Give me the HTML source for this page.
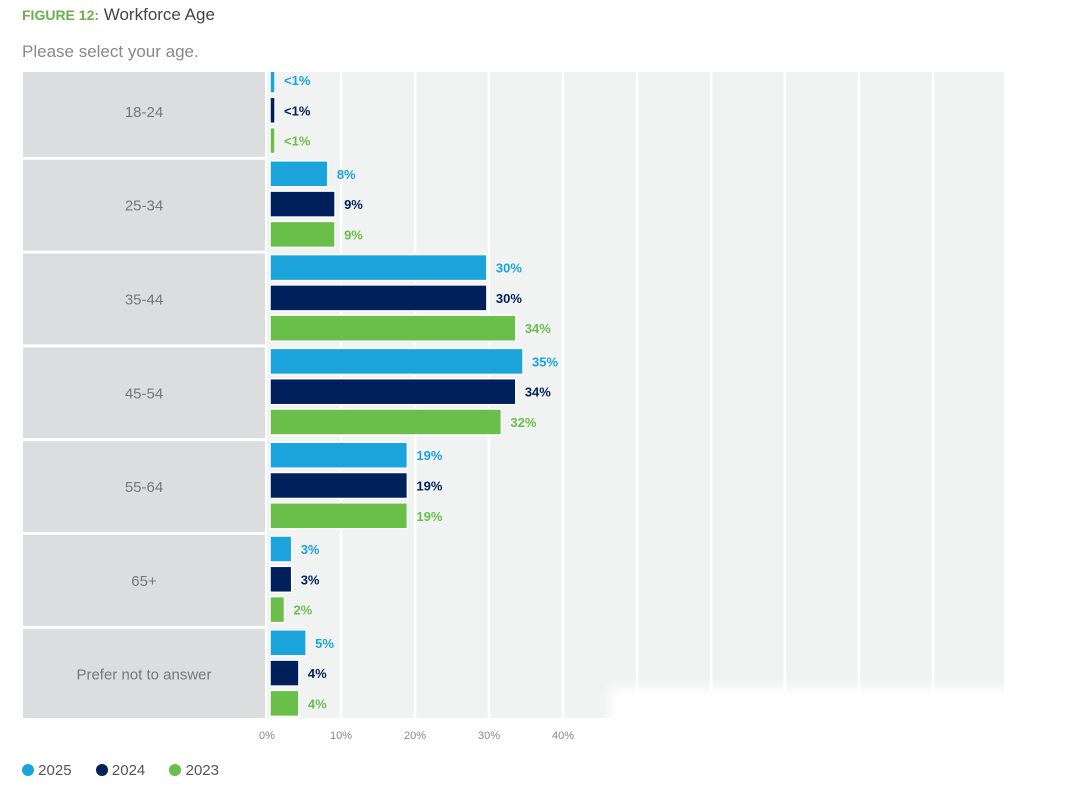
<!DOCTYPE html>
<html><head><meta charset="utf-8"><style>
body{margin:0;width:1080px;height:801px;background:#fff;font-family:"Liberation Sans",sans-serif;overflow:hidden;position:relative}
.t{position:absolute;white-space:nowrap}
</style></head><body>
<div class="t" style="left:22px;top:5px;font-size:17px;color:#444"><span style="color:#6ab04c;font-weight:bold;font-size:14px">FIGURE 12:</span> Workforce Age</div>
<div class="t" style="left:22px;top:42px;font-size:17px;color:#888">Please select your age.</div>
<svg id="chart" width="1080" height="801" style="position:absolute;left:0;top:0"></svg>
<div style="position:absolute;left:610px;top:688px;width:400px;height:110px;background:#fff;filter:blur(6px)"></div>
<div class="t" style="left:22px;top:762px;font-size:15px;color:#555">
<span><span style="display:inline-block;width:12px;height:12px;border-radius:50%;background:#1ba3dc;vertical-align:-1px"></span> 2025</span>
<span style="margin-left:20px"><span style="display:inline-block;width:12px;height:12px;border-radius:50%;background:#00205b;vertical-align:-1px"></span> 2024</span>
<span style="margin-left:20px"><span style="display:inline-block;width:12px;height:12px;border-radius:50%;background:#6abf4b;vertical-align:-1px"></span> 2023</span>
</div>
<script>
const categories=["18-24","25-34","35-44","45-54","55-64","65+","Prefer not to answer"];
const v2025=[0.7,8,30,35,19,3,5];
const v2024=[0.7,9,30,34,19,3,4];
const v2023=[0.7,9,34,32,19,2,4];
const labels2025=["<1%","8%","30%","35%","19%","3%","5%"];
const labels2024=["<1%","9%","30%","34%","19%","3%","4%"];
const labels2023=["<1%","9%","34%","32%","19%","2%","4%"];
const ticks=[0,10,20,30,40];
const series=[{v:v2025,l:labels2025,c:"#1ba3dc",n:"2025"},{v:v2024,l:labels2024,c:"#00205b",n:"2024"},{v:v2023,l:labels2023,c:"#6abf4b",n:"2023"}];
const svg=document.getElementById('chart');const NS="http://www.w3.org/2000/svg";
const x0=270,px=7.23,top0=65,rowH=93.8,plotTop=72,plotBot=718;
const X=v=>x0+v*px;
const G=v=>267+v*7.4;
function mk(t,a,p){const e=document.createElementNS(NS,t);for(const k in a)e.setAttribute(k,a[k]);(p||svg).appendChild(e);return e;}
const clip=mk('clipPath',{id:'cp'});mk('rect',{x:0,y:plotTop,width:1080,height:plotBot-plotTop},clip);
const g=mk('g',{'clip-path':'url(#cp)'});
const bg=mk('rect',{x:267,y:0,width:737,height:800,fill:'#f1f3f2'},g);


for(let i=1;i<=9;i++){const gl=mk('line',{x1:G(i*10),x2:G(i*10),y1:0,y2:800,stroke:'#fff','stroke-width':2.5},g);

}
categories.forEach((c,i)=>{const y=top0+i*rowH;
const p=mk('rect',{x:23,y:y+1,width:242,height:rowH-3,fill:'#dcdddf'},g);


const t=mk('text',{x:144,y:y+rowH/2+5,'text-anchor':'middle','font-size':15,fill:'#777'},g);t.textContent=c;


series.forEach((s,j)=>{const by=y+2+j*30.3;
const b=mk('rect',{x:x0,y:by,width:Math.max(s.v[i]*px,4),height:26,fill:s.c,stroke:'#fff','stroke-width':1.5},g);


const lt=mk('text',{x:x0+Math.max(s.v[i]*px,4)+9,y:by+18,'font-size':13,'font-weight':'bold',fill:s.c},g);lt.textContent=s.l[i];

});});
ticks.forEach(t=>{const e=mk('text',{x:G(t),y:739,'text-anchor':'middle','font-size':11,fill:'#888'});e.textContent=t+'%';

});
</script>
</body></html>
